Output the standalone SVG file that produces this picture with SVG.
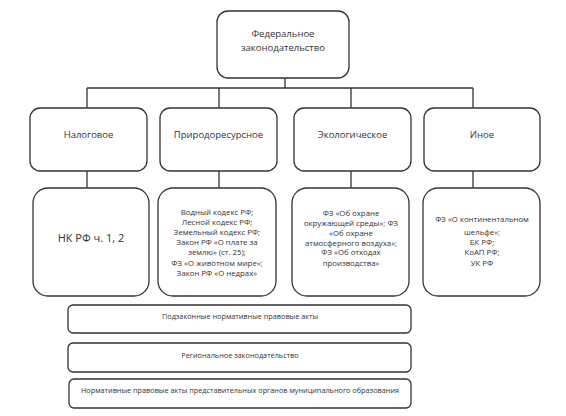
<svg xmlns="http://www.w3.org/2000/svg" width="566" height="416" viewBox="0 0 566 416">
<style>
.b{fill:#fff;stroke:#333;stroke-width:1.3}
.c{fill:none;stroke:#333;stroke-width:1.3}
text{font-family:"Open Sans","DejaVu Sans",sans-serif;fill:#333;text-anchor:middle}
.t1{font-size:9.5px}
.t2{font-size:7.3px}
.t4{font-size:7.8px}
.t3{font-size:11px}
</style>
<rect width="566" height="416" fill="#fff"/>
<g id="connectors">
<path class="c" d="M285 78V88M87 88H473M87 88V108M219 88V108M351 88V108M473 88V108M87 171V188M219 171V188M351 171V188M473 171V188"/>
</g>
<g id="federal">
<rect class="b" x="217" y="11" width="132" height="67" rx="11"/>
<text class="t1" x="283" y="36.5">Федеральное</text>
<text class="t1" x="283" y="50.5">законодательство</text>
</g>
<g id="tax">
<rect class="b" x="30" y="108" width="117" height="63" rx="10"/>
<text class="t1" x="88.5" y="137.5">Налоговое</text>
</g>
<g id="nature">
<rect class="b" x="160" y="108" width="117" height="63" rx="10"/>
<text class="t1" x="218.5" y="137.5">Природоресурсное</text>
</g>
<g id="eco">
<rect class="b" x="294" y="108" width="117" height="63" rx="10"/>
<text class="t1" x="352.5" y="137.5">Экологическое</text>
</g>
<g id="other">
<rect class="b" x="424" y="108" width="116" height="63" rx="10"/>
<text class="t1" x="482" y="137.5">Иное</text>
</g>
<g id="tax-laws">
<rect class="b" x="33" y="188" width="116" height="108" rx="15"/>
<text class="t3" x="91" y="242">НК РФ ч. 1, 2</text>
</g>
<g id="nature-laws">
<rect class="b" x="158" y="188" width="118" height="108" rx="15"/>
<text class="t4" x="217" y="214.5">Водный кодекс РФ;</text>
<text class="t4" x="217" y="224.5">Лесной кодекс РФ;</text>
<text class="t4" x="217" y="235">Земельный кодекс РФ;</text>
<text class="t4" x="217" y="245">Закон РФ «О плате за</text>
<text class="t4" x="217" y="255">землю» (ст. 25);</text>
<text class="t4" x="217" y="265.5">ФЗ «О животном мире»;</text>
<text class="t4" x="217" y="275.5">Закон РФ «О недрах»</text>
</g>
<g id="eco-laws">
<rect class="b" x="292" y="188" width="117" height="108" rx="15"/>
<text class="t4" x="351" y="215.5">ФЗ «Об охране</text>
<text class="t4" x="351" y="225.5">окружающей среды»; ФЗ</text>
<text class="t4" x="351" y="235.5">«Об охране</text>
<text class="t4" x="351" y="245.5">атмосферного воздуха»;</text>
<text class="t4" x="351" y="255">ФЗ «Об отходах</text>
<text class="t4" x="351" y="265.5">производства»</text>
</g>
<g id="other-laws">
<rect class="b" x="423" y="188" width="117" height="108" rx="15"/>
<text class="t4" x="482" y="221.5">ФЗ «О континентальном</text>
<text class="t4" x="482" y="234.5">шельфе»;</text>
<text class="t4" x="482" y="244.5">БК РФ;</text>
<text class="t4" x="482" y="254.5">КоАП РФ;</text>
<text class="t4" x="482" y="265.5">УК РФ</text>
</g>
<g id="bylaws">
<rect class="b" x="68" y="305" width="343" height="28" rx="5"/>
<text class="t2" x="240" y="318.5">Подзаконные нормативные правовые акты</text>
</g>
<g id="regional">
<rect class="b" x="68" y="343" width="343" height="29" rx="5"/>
<text class="t2" x="240" y="357.5">Региональное законодательство</text>
</g>
<g id="municipal">
<rect class="b" x="69" y="379" width="342" height="29" rx="5"/>
<text class="t2" x="240" y="392.5">Нормативные правовые акты представительных органов муниципального образования</text>
</g>
</svg>
